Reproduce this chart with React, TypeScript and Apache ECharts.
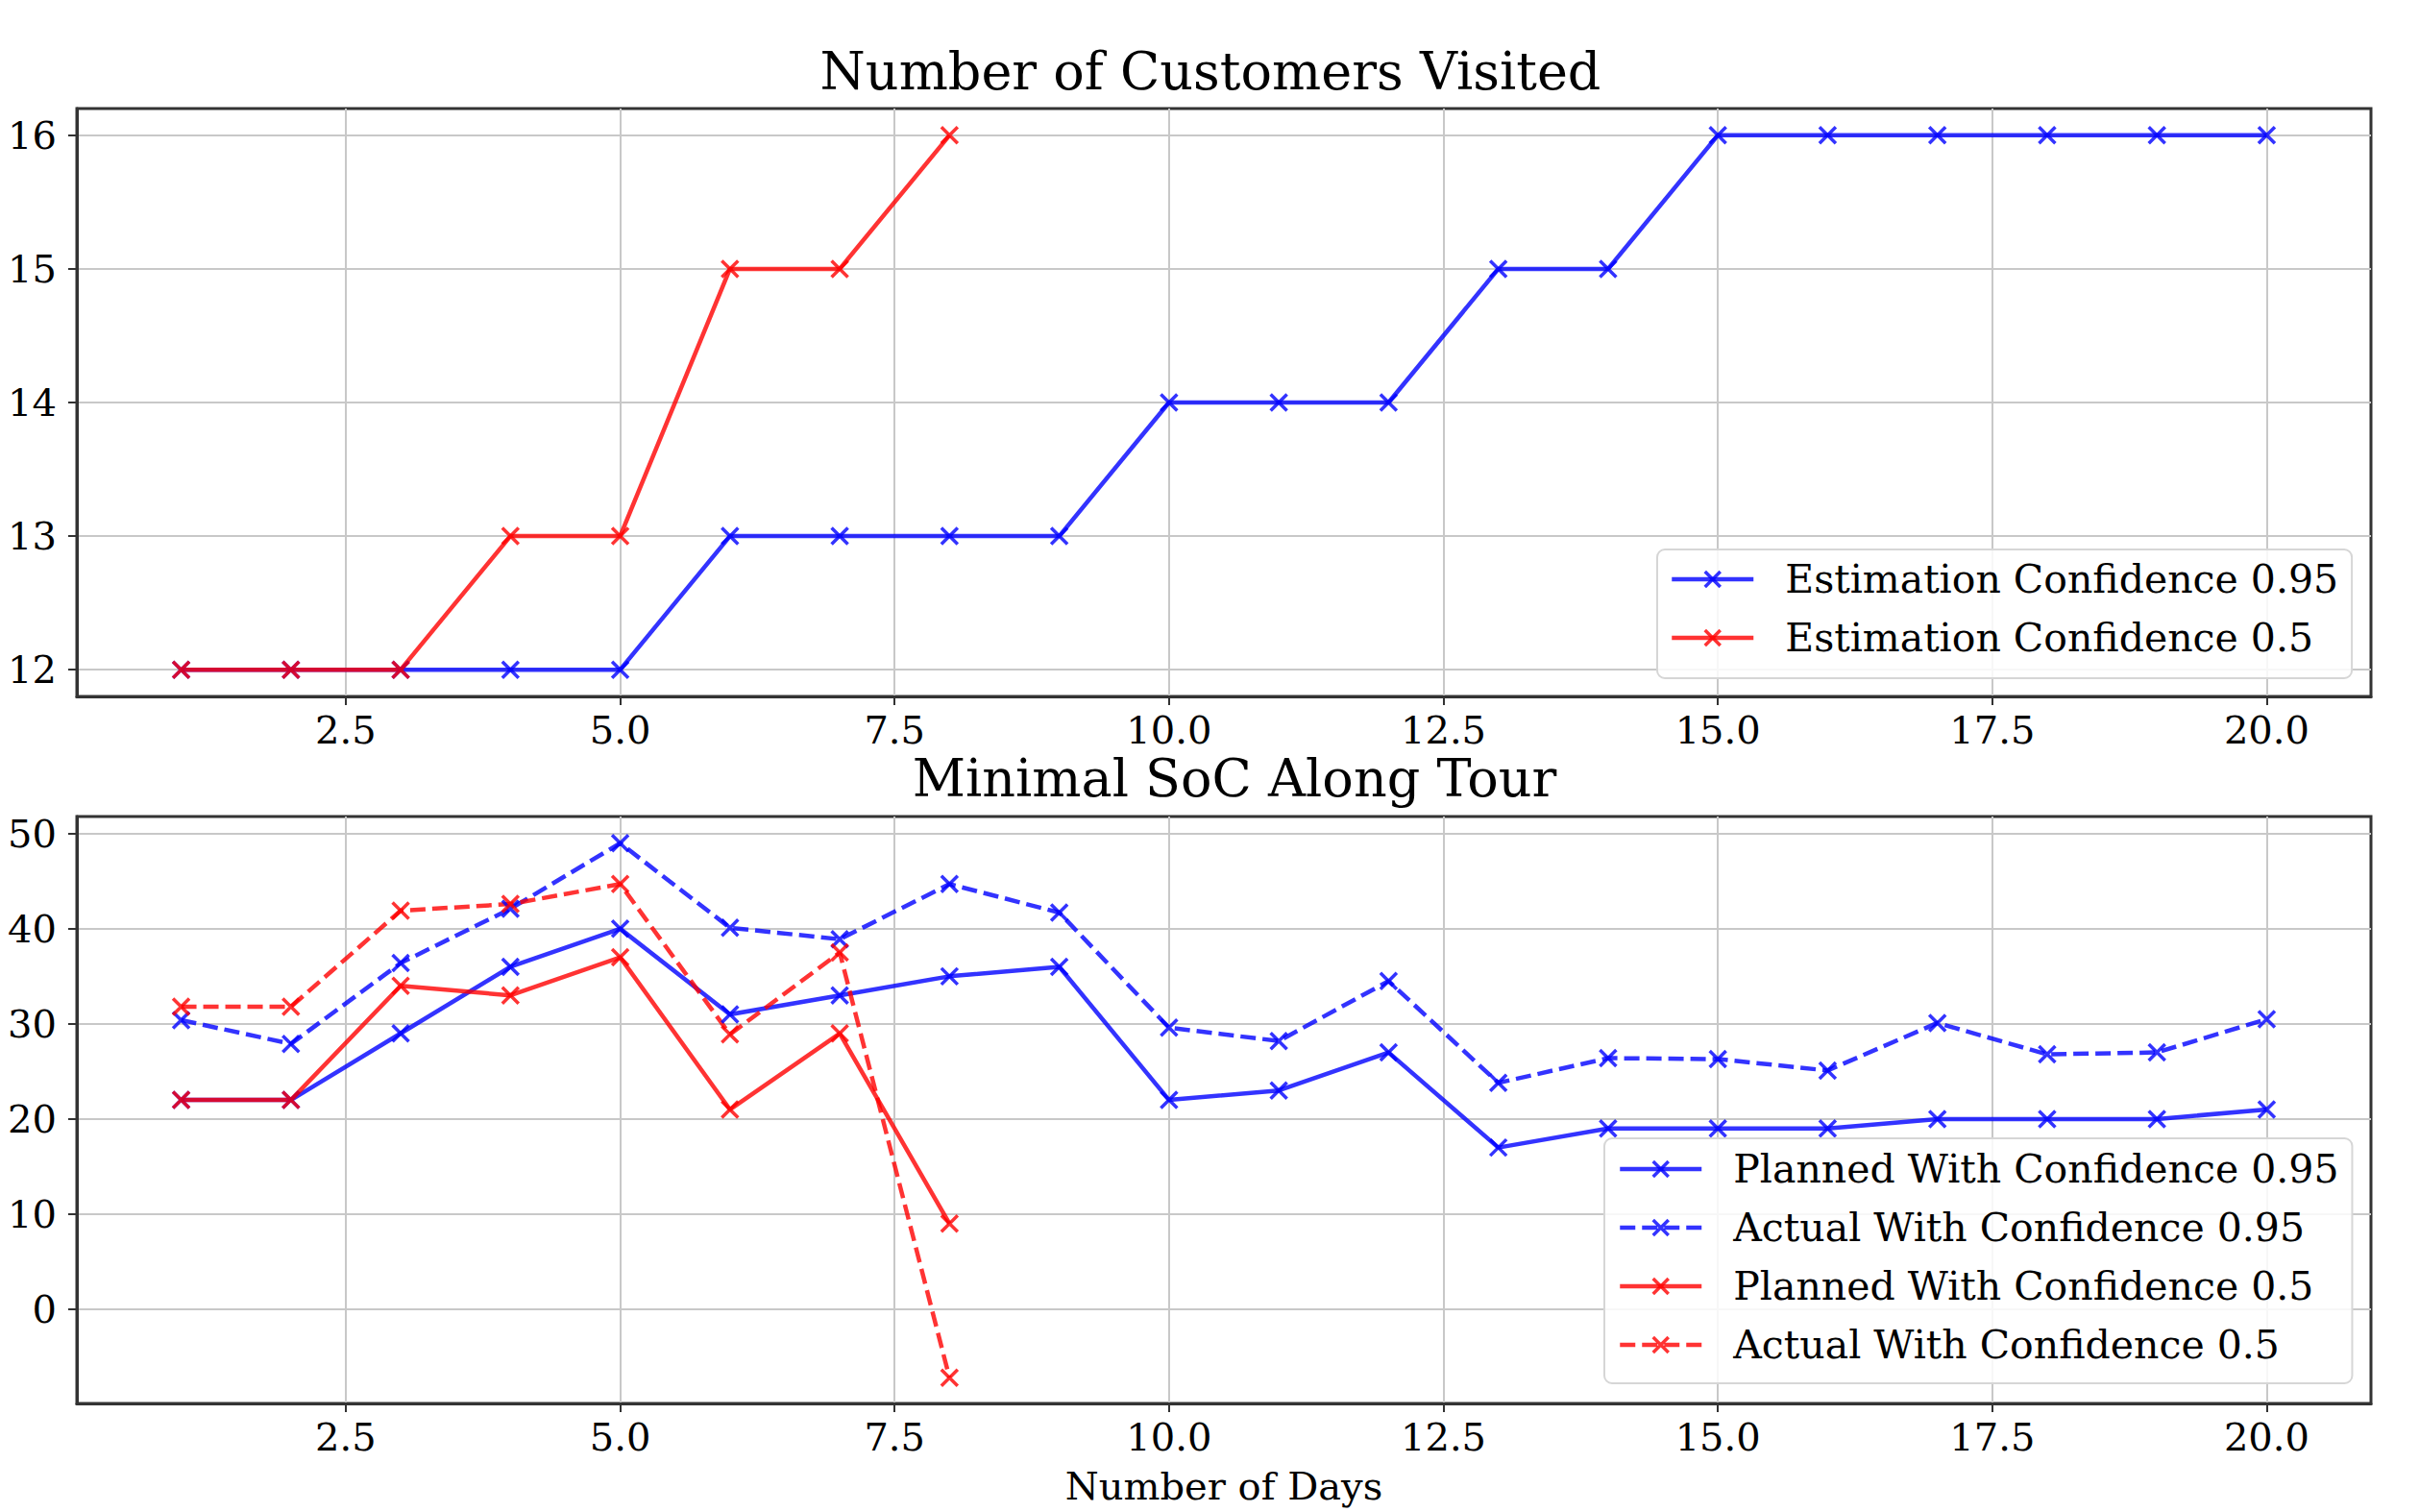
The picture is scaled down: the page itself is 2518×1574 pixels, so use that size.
import React, { useEffect, useRef } from "react";
import * as echarts from "echarts";

const days = [1, 2, 3, 4, 5, 6, 7, 8, 9, 10, 11, 12, 13, 14, 15, 16, 17, 18, 19, 20];

const customers095 = [12, 12, 12, 12, 12, 13, 13, 13, 13, 14, 14, 14, 15, 15, 16, 16, 16, 16, 16, 16];
const customers05 = [12, 12, 12, 13, 13, 15, 15, 16];

const socPlanned095 = [22, 22, 29, 36, 40, 31, 33, 35, 36, 22, 23, 27, 17, 19, 19, 19, 20, 20, 20, 21];
const socActual095 = [30.4, 27.9, 36.4, 42.1, 49.0, 40.1, 38.9, 44.7, 41.7, 29.6, 28.2, 34.5, 23.8, 26.4, 26.3, 25.1, 30.1, 26.8, 27.0, 30.5];
const socPlanned05 = [22, 22, 34, 33, 37, 21, 29, 9];
const socActual05 = [31.8, 31.8, 41.9, 42.6, 44.7, 28.9, 37.5, -7.2];

const xTicks = [2.5, 5, 7.5, 10, 12.5, 15, 17.5, 20];
const yTicksTop = [12, 13, 14, 15, 16];
const yTicksBottom = [0, 10, 20, 30, 40, 50];

const topTitle = "Number of Customers Visited";
const bottomTitle = "Minimal SoC Along Tour";
const xName = "Number of Days";

const topNames = ["Estimation Confidence 0.95", "Estimation Confidence 0.5"];
const bottomNames = [
  "Planned With Confidence 0.95",
  "Actual With Confidence 0.95",
  "Planned With Confidence 0.5",
  "Actual With Confidence 0.5",
];

const FONT = "DejaVu Serif";
const BLUE = "rgba(0,0,255,0.8)";
const RED = "rgba(255,0,0,0.8)";
const X_SYMBOL = "path://M0,0L10,10M10,0L0,10";
const LINE_W = 4.5;
const MARK_W = 3.5;

function pairs(vals: number[]) {
  return vals.map((v, i) => [days[i], v]);
}

function isMultiple(v: number, step: number) {
  return Math.abs(v / step - Math.round(v / step)) < 1e-6;
}

function makeX(gridIndex: number, withName: boolean) {
  return {
    type: "value",
    gridIndex,
    min: 0.05,
    max: 20.95,
    minInterval: 2.5,
    maxInterval: 2.5,
    name: withName ? xName : "",
    nameLocation: "middle",
    nameGap: 66,
    nameTextStyle: { fontSize: 40, fontFamily: FONT, color: "#000" },
    axisLine: { show: true, onZero: false, lineStyle: { color: "#333", width: 3 } },
    axisTick: { show: true, length: 9, customValues: xTicks, lineStyle: { color: "#333", width: 2 } },
    axisLabel: {
      customValues: xTicks,
      fontSize: 40,
      lineHeight: 34,
      fontFamily: FONT,
      color: "#000",
      margin: 18,
      formatter: (v: number) => (isMultiple(v, 2.5) && v > 0.1 && v < 20.9 ? v.toFixed(1) : ""),
    },
    splitLine: { show: true, lineStyle: { color: "#c8c8c8", width: 2 } },
  };
}

function makeY(gridIndex: number, min: number, max: number, step: number, ticks: number[]) {
  return {
    type: "value",
    gridIndex,
    min,
    max,
    minInterval: step,
    maxInterval: step,
    axisLine: { show: true, onZero: false, lineStyle: { color: "#333", width: 3 } },
    axisTick: { show: true, length: 9, customValues: ticks, lineStyle: { color: "#333", width: 2 } },
    axisLabel: {
      customValues: ticks,
      fontSize: 40,
      fontFamily: FONT,
      color: "#000",
      margin: 21,
      formatter: (v: number) =>
        isMultiple(v, step) && v >= ticks[0] - 1e-6 && v <= ticks[ticks.length - 1] + 1e-6 ? String(Math.round(v)) : "",
    },
    splitLine: { show: true, lineStyle: { color: "#c8c8c8", width: 2 } },
  };
}

function lineSeries(name: string, vals: number[], color: string, dashed: boolean, idx: number) {
  return {
    type: "line",
    name,
    xAxisIndex: idx,
    yAxisIndex: idx,
    data: pairs(vals),
    symbol: X_SYMBOL,
    symbolSize: 17,
    color,
    lineStyle: { color, width: LINE_W, type: dashed ? [16, 7] : "solid" },
    itemStyle: { color, borderColor: color, borderWidth: MARK_W },
    emphasis: { disabled: true },
  };
}

const legendBase = {
  orient: "vertical",
  itemWidth: 85,
  itemHeight: 20,
  itemGap: 17,
  backgroundColor: "rgba(255,255,255,0.85)",
  borderColor: "#d6d6d6",
  borderWidth: 2,
  borderRadius: 8,
  lineStyle: { width: LINE_W },
  itemStyle: { borderWidth: MARK_W },
  textStyle: { fontSize: 41, fontFamily: FONT, color: "#000", lineHeight: 44, padding: [0, 0, 0, 28] },
};

export default function App() {
  const ref = useRef<HTMLDivElement>(null);
  useEffect(() => {
    if (!ref.current) return;
    document.body.style.margin = "0";
    const chart = echarts.init(ref.current, null, { renderer: "svg" });
    chart.setOption({
      animation: false,
      backgroundColor: "#fff",
      textStyle: { fontFamily: FONT },
      title: [
        {
          text: topTitle,
          left: 1260,
          top: 54,
          textAlign: "center",
          padding: 0,
          textStyle: { fontSize: 54, lineHeight: 40, fontFamily: FONT, fontWeight: "normal", color: "#000" },
        },
        {
          text: bottomTitle,
          left: 1285,
          top: 790,
          textAlign: "center",
          padding: 0,
          textStyle: { fontSize: 54, lineHeight: 40, fontFamily: FONT, fontWeight: "normal", color: "#000" },
        },
      ],
      grid: [
        { left: 80, right: 50, top: 113, height: 612, show: true, borderColor: "#333", borderWidth: 3, backgroundColor: "transparent" },
        { left: 80, right: 50, top: 850, height: 611, show: true, borderColor: "#333", borderWidth: 3, backgroundColor: "transparent" },
      ],
      xAxis: [makeX(0, false), makeX(1, true)],
      yAxis: [makeY(0, 11.8, 16.2, 1, yTicksTop), makeY(1, -9.9, 51.8, 10, yTicksBottom)],
      legend: [
        { ...legendBase, data: topNames, left: 1725, top: 572, padding: [9, 14, 20, 13] },
        { ...legendBase, data: bottomNames, left: 1670, top: 1185, padding: [10, 14, 18, 14] },
      ],
      series: [
        lineSeries(topNames[0], customers095, BLUE, false, 0),
        lineSeries(topNames[1], customers05, RED, false, 0),
        lineSeries(bottomNames[0], socPlanned095, BLUE, false, 1),
        lineSeries(bottomNames[1], socActual095, BLUE, true, 1),
        lineSeries(bottomNames[2], socPlanned05, RED, false, 1),
        lineSeries(bottomNames[3], socActual05, RED, true, 1),
      ],
    });
    return () => chart.dispose();
  }, []);
  return <div ref={ref} style={{ position: "absolute", left: 0, top: 0, width: 2518, height: 1574 }} />;
}
